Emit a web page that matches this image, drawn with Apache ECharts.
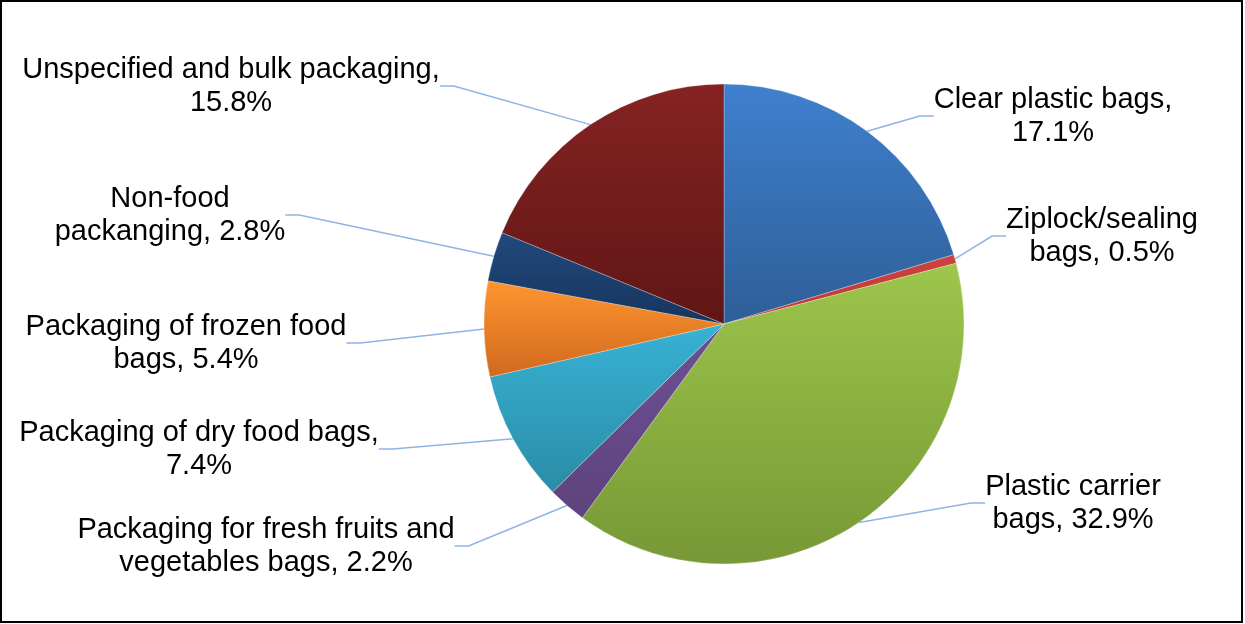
<!DOCTYPE html>
<html>
<head>
<meta charset="utf-8">
<script src="https://cdn.jsdelivr.net/npm/echarts@6/dist/echarts.min.js"></script>
<style>
  html, body { margin: 0; padding: 0; background: #ffffff; }
  #chart { width: 1245px; height: 624px; }
</style>
</head>
<body>
<div id="chart"></div>
<script>
// Share of plastic packaging by type (%)
const categories = [
  'Clear plastic bags',
  'Ziplock/sealing bags',
  'Plastic carrier bags',
  'Packaging for fresh fruits and vegetables bags',
  'Packaging of dry food bags',
  'Packaging of frozen food bags',
  'Non-food packanging',
  'Unspecified and bulk packaging'
];
const shares = [17.1, 0.5, 32.9, 2.2, 7.4, 5.4, 2.8, 15.8];

// Number of words kept on the first line of each label
const firstLineWords = [3, 1, 2, 5, 5, 4, 1, 4];

// Label block centres (px)
const labelCentres = [
  [1053, 116], [1102, 236], [1073, 503], [266, 546],
  [199, 449], [186, 343], [170, 215], [231, 86]
];

// Top / bottom gradient colours of each slice
const sliceColours = [
  ['#3F80CE', '#2E5E98'],
  ['#CB433F', '#BC3833'],
  ['#9DC64B', '#779836'],
  ['#6E5093', '#5E437E'],
  ['#38B2D4', '#2A8CA6'],
  ['#FF952F', '#D0691F'],
  ['#21497E', '#16355C'],
  ['#852322', '#601616']
];

function wrapLabel(name, value, idx) {
  const words = (name + ', ' + value.toFixed(1) + '%').split(' ');
  const n = firstLineWords[idx];
  return words.slice(0, n).join(' ') + '\n' + words.slice(n).join(' ');
}

const chart = echarts.init(document.getElementById('chart'), null, { renderer: 'canvas' });

const pieData = categories.map((name, i) => ({
  name: name,
  value: shares[i],
  itemStyle: {
    color: {
      type: 'linear', x: 0, y: 0, x2: 0, y2: 1,
      colorStops: [
        { offset: 0, color: sliceColours[i][0] },
        { offset: 1, color: sliceColours[i][1] }
      ]
    }
  }
}));

chart.setOption({
  backgroundColor: '#ffffff',
  animation: false,
  graphic: [{
    type: 'rect',
    shape: { x: 1, y: 1, width: 1241, height: 621 },
    style: { fill: 'none', stroke: '#000000', lineWidth: 2 },
    z: 100
  }],
  series: [{
    type: 'pie',
    center: [724, 324],
    radius: 240,
    startAngle: 90,
    clockwise: true,
    avoidLabelOverlap: false,
    itemStyle: { borderColor: 'rgba(255,255,255,0.45)', borderWidth: 0.6 },
    label: {
      show: true,
      position: 'outside',
      fontFamily: '"Liberation Sans", Arial, sans-serif',
      fontSize: 29,
      lineHeight: 33,
      color: '#000000',
      align: 'center',
      formatter: p => wrapLabel(p.name, p.value, p.dataIndex)
    },
    labelLine: {
      show: true,
      length: 20,
      length2: 14,
      smooth: false,
      lineStyle: { color: '#8EB4E3', width: 1.5 }
    },
    labelLayout: p => ({
      x: labelCentres[p.dataIndex][0],
      y: labelCentres[p.dataIndex][1],
      align: 'center',
      verticalAlign: 'middle'
    }),
    emphasis: { disabled: true },
    data: pieData
  }]
});
</script>
</body>
</html>
